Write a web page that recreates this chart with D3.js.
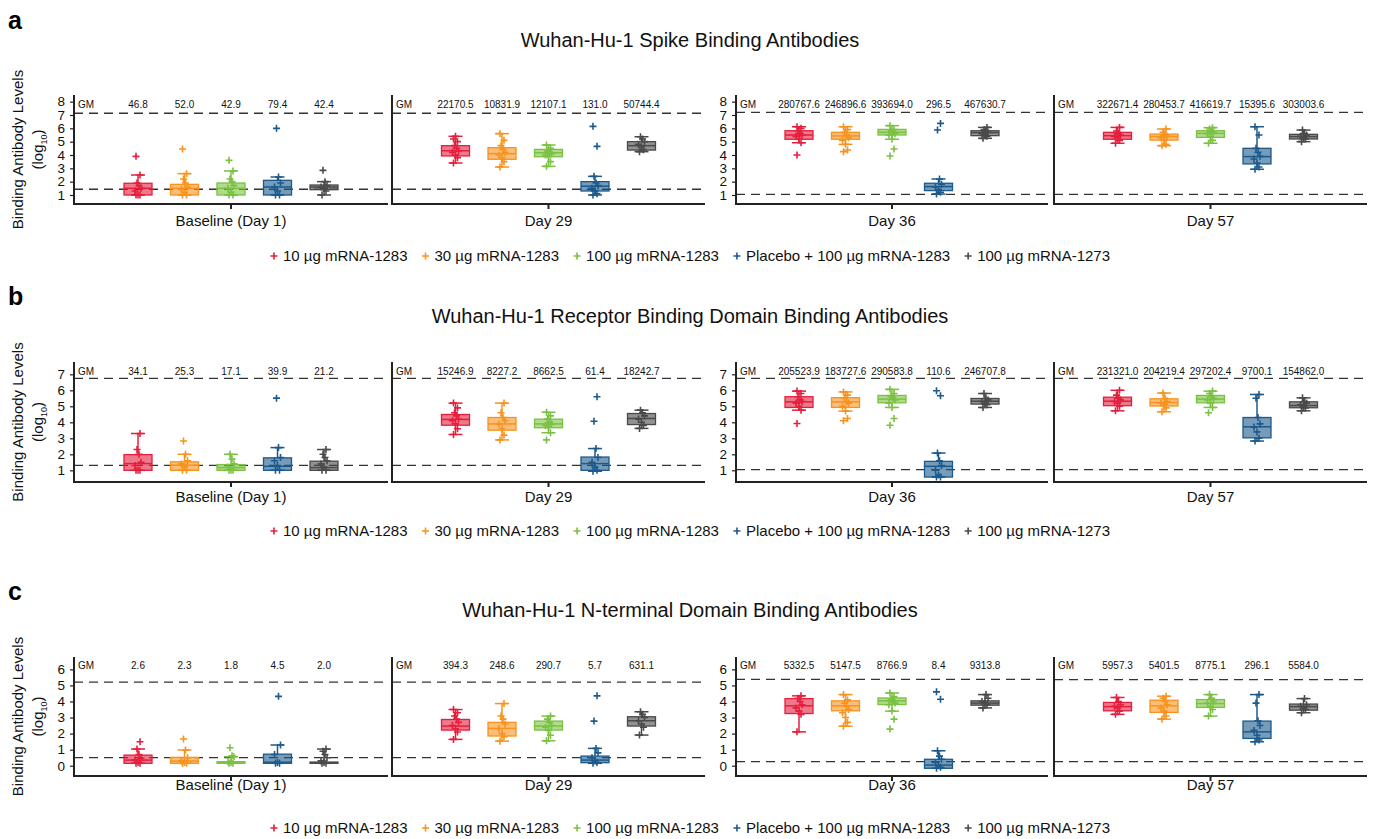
<!DOCTYPE html>
<html>
<head>
<meta charset="utf-8">
<script src="https://cdn.jsdelivr.net/npm/d3@7"></script>
<style>
  body { margin: 0; background: #fff; }
  svg { font-family: "Liberation Sans", Arial, sans-serif; }
</style>
</head>
<body>
<script>
// ---- data ----
const days = ["Baseline (Day 1)", "Day 29", "Day 36", "Day 57"];
const groups = ["10 µg mRNA-1283", "30 µg mRNA-1283", "100 µg mRNA-1283", "Placebo + 100 µg mRNA-1283", "100 µg mRNA-1273"];
const groupColors = ["#e41f3d", "#f7931e", "#7bc143", "#1c5a8c", "#4a4a4a"];

// Spike
const spikeGM = [[46.8, 52.0, 42.9, 79.4, 42.4], [22170.5, 10831.9, 12107.1, 131.0, 50744.4],
                 [280767.6, 246896.6, 393694.0, 296.5, 467630.7], [322671.4, 280453.7, 416619.7, 15395.6, 303003.6]];
const spikeLimits = [[1.43, 7.13], [1.43, 7.13], [1.05, 7.2], [1.05, 7.2]];
const spikeTicks = [1, 2, 3, 4, 5, 6, 7, 8];
// [min, q1, median, q3, max]
const spikeBox = [
  [[1.0, 1.0, 1.5, 1.88, 2.5], [1.0, 1.0, 1.5, 1.8, 2.6], [1.0, 1.0, 1.5, 1.9, 2.8], [1.0, 1.0, 1.6, 2.1, 2.35], [1.0, 1.4, 1.6, 1.75, 2.0]],
  [[3.4, 3.93, 4.32, 4.7, 5.4], [3.1, 3.68, 4.1, 4.55, 5.6], [3.15, 3.87, 4.17, 4.42, 4.75], [1.0, 1.3, 1.66, 2.0, 2.4], [4.25, 4.37, 4.7, 5.0, 5.37]],
  [[4.92, 5.18, 5.5, 5.82, 6.12], [4.8, 5.18, 5.43, 5.7, 6.12], [5.18, 5.5, 5.7, 5.92, 6.2], [1.07, 1.33, 1.63, 1.88, 2.2], [5.25, 5.45, 5.68, 5.82, 6.07]],
  [[4.88, 5.18, 5.45, 5.7, 6.07], [4.7, 5.12, 5.38, 5.57, 5.95], [4.88, 5.32, 5.62, 5.82, 6.05], [2.93, 3.33, 3.88, 4.5, 6.12], [5.0, 5.2, 5.38, 5.55, 5.87]]
];
const spikePoints = [
  [[1.0, 1.0, 1.0, 1.3, 1.5, 1.7, 1.9, 2.5, 3.9], [1.0, 1.0, 1.2, 1.4, 1.6, 1.9, 2.2, 2.6, 4.45], [1.0, 1.0, 1.2, 1.5, 1.7, 2.0, 2.2, 2.8, 3.6], [1.0, 1.0, 1.3, 1.6, 1.9, 2.35, 6.0], [1.0, 1.3, 1.5, 1.6, 1.7, 2.0, 2.85]],
  [[3.4, 3.8, 4.0, 4.2, 4.3, 4.5, 4.7, 5.0, 5.2, 5.4], [3.1, 3.5, 3.8, 4.0, 4.2, 4.4, 4.7, 5.1, 5.6], [3.15, 3.5, 3.9, 4.0, 4.1, 4.2, 4.3, 4.5, 4.75], [1.0, 1.1, 1.3, 1.5, 1.7, 1.9, 2.4, 4.65, 6.15], [4.25, 4.4, 4.6, 4.8, 5.0, 5.2, 5.37]],
  [[4.0, 4.92, 5.2, 5.4, 5.5, 5.6, 5.8, 6.0, 6.12], [4.25, 4.38, 4.8, 5.1, 5.3, 5.5, 5.7, 5.9, 6.12], [3.93, 4.45, 5.18, 5.5, 5.6, 5.7, 5.8, 5.9, 6.2], [1.07, 1.2, 1.4, 1.6, 1.8, 2.2, 5.87, 6.37], [5.25, 5.4, 5.5, 5.6, 5.7, 5.8, 5.9, 6.07]],
  [[4.88, 5.1, 5.3, 5.4, 5.5, 5.6, 5.8, 6.07], [4.7, 4.8, 5.1, 5.3, 5.4, 5.5, 5.7, 5.95], [4.88, 5.1, 5.4, 5.6, 5.7, 5.8, 5.95, 6.05], [2.93, 3.1, 3.4, 3.7, 3.9, 4.2, 4.5, 5.5, 6.12], [5.0, 5.2, 5.3, 5.4, 5.5, 5.6, 5.87]]
];

// Receptor binding domain
const rbdGM = [[34.1, 25.3, 17.1, 39.9, 21.2], [15246.9, 8227.2, 8662.5, 61.4, 18242.7],
               [205523.9, 183727.6, 290583.8, 110.6, 246707.8], [231321.0, 204219.4, 297202.4, 9700.1, 154862.0]];
const rbdLimits = [[1.31, 6.75], [1.31, 6.75], [1.04, 6.75], [1.04, 6.75]];
const rbdTicks = [1, 2, 3, 4, 5, 6, 7];
const rbdBox = [
  [[1.0, 1.0, 1.42, 1.98, 3.3], [1.0, 1.0, 1.32, 1.53, 2.0], [1.0, 1.0, 1.17, 1.36, 2.0], [1.0, 1.0, 1.25, 1.78, 2.42], [1.0, 1.0, 1.17, 1.57, 2.3]],
  [[3.24, 3.82, 4.18, 4.49, 5.2], [2.9, 3.51, 3.9, 4.3, 5.2], [3.35, 3.66, 3.9, 4.2, 4.63], [0.94, 1.0, 1.42, 1.83, 2.36], [3.62, 3.86, 4.24, 4.55, 4.76]],
  [[4.76, 4.93, 5.28, 5.6, 5.95], [4.7, 4.93, 5.28, 5.54, 5.9], [4.93, 5.22, 5.45, 5.68, 6.06], [0.58, 0.58, 1.25, 1.56, 2.08], [4.93, 5.14, 5.32, 5.49, 5.8]],
  [[4.72, 5.04, 5.32, 5.57, 6.0], [4.66, 5.02, 5.24, 5.47, 5.83], [4.93, 5.22, 5.45, 5.68, 5.95], [2.83, 3.03, 3.72, 4.3, 5.74], [4.72, 4.91, 5.05, 5.28, 5.53]]
];
const rbdPoints = [
  [[1.0, 1.0, 1.0, 1.3, 1.5, 2.0, 2.3, 3.3], [1.0, 1.0, 1.2, 1.4, 1.6, 2.0, 2.83], [1.0, 1.0, 1.0, 1.2, 1.4, 1.7, 2.0], [1.0, 1.0, 1.3, 1.6, 1.8, 2.42, 5.51], [1.0, 1.0, 1.2, 1.4, 1.6, 1.8, 2.0, 2.3]],
  [[3.24, 3.6, 3.9, 4.1, 4.2, 4.4, 4.6, 4.9, 5.2], [2.9, 3.2, 3.6, 3.9, 4.1, 4.3, 4.6, 5.2], [2.9, 3.35, 3.7, 3.8, 3.9, 4.0, 4.2, 4.4, 4.63], [0.94, 1.0, 1.2, 1.5, 1.8, 2.36, 4.07, 5.6], [3.62, 3.8, 4.0, 4.2, 4.4, 4.6, 4.76]],
  [[3.93, 4.76, 5.0, 5.2, 5.3, 5.4, 5.6, 5.8, 5.95], [4.1, 4.24, 4.7, 5.0, 5.2, 5.3, 5.5, 5.7, 5.9], [3.82, 4.24, 4.93, 5.2, 5.4, 5.5, 5.6, 5.8, 6.06], [0.58, 0.58, 0.7, 1.0, 1.3, 1.6, 2.08, 5.66, 5.97], [4.93, 5.1, 5.2, 5.3, 5.4, 5.5, 5.8]],
  [[4.72, 5.0, 5.2, 5.3, 5.4, 5.5, 5.7, 6.0], [4.66, 4.9, 5.1, 5.2, 5.3, 5.5, 5.83], [4.6, 4.93, 5.2, 5.4, 5.5, 5.6, 5.8, 5.95], [2.83, 3.0, 3.4, 3.7, 3.9, 4.3, 5.5, 5.74], [4.72, 4.9, 5.0, 5.1, 5.2, 5.3, 5.53]]
];

// N-terminal domain
const ntdGM = [[2.6, 2.3, 1.8, 4.5, 2.0], [394.3, 248.6, 290.7, 5.7, 631.1],
               [5332.5, 5147.5, 8766.9, 8.4, 9313.8], [5957.3, 5401.5, 8775.1, 296.1, 5584.0]];
const ntdLimits = [[0.5, 5.2], [0.5, 5.2], [0.25, 5.38], [0.25, 5.36]];
const ntdTicks = [0, 1, 2, 3, 4, 5, 6];
const ntdBox = [
  [[0.15, 0.15, 0.35, 0.66, 1.04], [0.15, 0.15, 0.29, 0.52, 0.98], [0.15, 0.15, 0.2, 0.25, 0.56], [0.15, 0.15, 0.22, 0.72, 1.29], [0.15, 0.15, 0.2, 0.22, 1.04]],
  [[1.64, 2.22, 2.47, 2.88, 3.5], [1.53, 1.85, 2.32, 2.7, 3.87], [1.55, 2.22, 2.47, 2.78, 3.09], [0.15, 0.19, 0.35, 0.6, 1.08], [1.91, 2.47, 2.8, 3.05, 3.36]],
  [[2.11, 3.25, 3.73, 4.18, 4.35], [2.46, 3.42, 3.73, 4.04, 4.43], [3.4, 3.81, 4.04, 4.22, 4.53], [-0.16, -0.16, 0.04, 0.4, 0.93], [3.6, 3.77, 3.9, 4.04, 4.43]],
  [[3.2, 3.42, 3.68, 3.94, 4.25], [2.9, 3.32, 3.73, 4.08, 4.33], [3.09, 3.63, 3.87, 4.12, 4.43], [1.49, 1.7, 2.11, 2.78, 4.43], [3.3, 3.46, 3.68, 3.84, 4.18]]
];
const ntdPoints = [
  [[0.15, 0.15, 0.2, 0.35, 0.45, 0.7, 1.04, 1.49], [0.15, 0.15, 0.2, 0.3, 0.5, 0.98, 1.66], [0.15, 0.15, 0.2, 0.25, 0.56, 0.62, 1.12], [0.15, 0.15, 0.2, 0.7, 1.29, 4.32], [0.15, 0.15, 0.2, 0.3, 0.5, 0.7, 0.9, 1.04]],
  [[1.64, 2.1, 2.3, 2.5, 2.7, 2.9, 3.1, 3.3, 3.5], [1.53, 1.8, 2.0, 2.3, 2.6, 2.9, 3.1, 3.87], [1.55, 1.9, 2.2, 2.4, 2.5, 2.7, 2.9, 3.09], [0.15, 0.2, 0.3, 0.5, 0.8, 1.08, 2.78, 4.35], [1.91, 2.4, 2.6, 2.8, 3.0, 3.2, 3.36]],
  [[2.11, 3.2, 3.4, 3.6, 3.8, 4.0, 4.2, 4.35], [2.46, 2.7, 3.0, 3.3, 3.5, 3.7, 3.9, 4.1, 4.43], [2.28, 2.9, 3.4, 3.8, 3.9, 4.0, 4.1, 4.3, 4.53], [-0.16, -0.1, 0.0, 0.2, 0.4, 0.6, 0.93, 4.14, 4.6], [3.6, 3.8, 3.9, 4.0, 4.2, 4.43]],
  [[3.2, 3.4, 3.6, 3.7, 3.8, 4.0, 4.25], [2.9, 3.1, 3.4, 3.6, 3.8, 4.0, 4.2, 4.33], [3.09, 3.5, 3.7, 3.9, 4.0, 4.2, 4.43], [1.49, 1.6, 1.9, 2.2, 2.5, 2.8, 3.9, 4.43], [3.3, 3.5, 3.6, 3.7, 3.8, 4.18]]
];

// ---- layout ----
const W = 1374, H = 839;
const panelX = [[74, 388], [392, 705], [736, 1048], [1054, 1367]];
const rows = [
  {letter: "a", title: "Wuhan-Hu-1 Spike Binding Antibodies", gm: spikeGM, lim: spikeLimits, ticks: spikeTicks, box: spikeBox, pts: spikePoints,
   top: 95, bottom: 204, domain: [0.325, 8.5], letterY: 29, titleY: 47, gmY: 108, xlabY: 226, legY: 261},
  {letter: "b", title: "Wuhan-Hu-1 Receptor Binding Domain Binding Antibodies", gm: rbdGM, lim: rbdLimits, ticks: rbdTicks, box: rbdBox, pts: rbdPoints,
   top: 362, bottom: 482, domain: [0.27, 7.77], letterY: 305, titleY: 323, gmY: 375, xlabY: 502, legY: 536},
  {letter: "c", title: "Wuhan-Hu-1 N-terminal Domain Binding Antibodies", gm: ntdGM, lim: ntdLimits, ticks: ntdTicks, box: ntdBox, pts: ntdPoints,
   top: 657, bottom: 776, domain: [-0.64, 6.77], letterY: 600, titleY: 617, gmY: 669, xlabY: 790, legY: 833}
];
const step = 46.5, boxW = 28;
const jitter = [-2, 2, 0, -3, 3, 1, -1, 2, -2, 0];

const svg = d3.select("body").append("svg").attr("width", W).attr("height", H);

function plus(g, x, y, color, r) {
  g.append("path")
    .attr("d", `M${x - r},${y}H${x + r}M${x},${y - r}V${y + r}`)
    .attr("stroke", color).attr("stroke-width", 1.6).attr("fill", "none");
}

rows.forEach(row => {
  const y = d3.scaleLinear().domain(row.domain).range([row.bottom, row.top]);

  svg.append("text").attr("x", 8).attr("y", row.letterY)
    .attr("font-size", 25).attr("font-weight", "bold").text(row.letter);
  svg.append("text").attr("x", 690).attr("y", row.titleY).attr("text-anchor", "middle")
    .attr("font-size", 20).attr("fill", "#111").text(row.title);

  // y title
  const cy = (row.top + row.bottom) / 2;
  svg.append("text").attr("transform", `translate(23,${cy}) rotate(-90)`)
    .attr("text-anchor", "middle").attr("font-size", 15).attr("fill", "#111").text("Binding Antibody Levels");
  const lg = svg.append("text").attr("transform", `translate(43,${cy}) rotate(-90)`)
    .attr("text-anchor", "middle").attr("font-size", 15).attr("fill", "#111");
  lg.append("tspan").text("(log");
  lg.append("tspan").attr("font-size", 9).attr("dy", 4).text("10");
  lg.append("tspan").attr("dy", -4).text(")");

  days.forEach((day, d) => {
    const [x0, x1] = panelX[d];
    const cx = (x0 + x1) / 2;
    const x = d3.scalePoint().domain(groups).range([cx - 2 * step, cx + 2 * step]);
    const g = svg.append("g");

    // dashed limits
    row.lim[d].forEach(v => {
      g.append("line").attr("x1", x0).attr("x2", x1).attr("y1", y(v)).attr("y2", y(v))
        .attr("stroke", "#333").attr("stroke-width", 1.3).attr("stroke-dasharray", "9,6");
    });

    // axes
    if (d === 0 || d === 2) {
      const ax = g.append("g").attr("transform", `translate(${x0},0)`)
        .call(d3.axisLeft(y).tickValues(row.ticks).tickSize(4).tickFormat(d3.format("d")));
      ax.select(".domain").remove();
      ax.selectAll("line").attr("stroke", "#222").attr("stroke-width", 1.2);
      ax.selectAll("text").attr("font-size", 13.5).attr("fill", "#111")
        .attr("font-family", "Liberation Sans, Arial, sans-serif").attr("x", -9);
    }
    g.append("line").attr("x1", x0).attr("x2", x0).attr("y1", row.top).attr("y2", row.bottom)
      .attr("stroke", "#222").attr("stroke-width", 2);
    g.append("line").attr("x1", x0 - 1).attr("x2", x1).attr("y1", row.bottom).attr("y2", row.bottom)
      .attr("stroke", "#222").attr("stroke-width", 2);
    g.append("line").attr("x1", cx).attr("x2", cx).attr("y1", row.bottom).attr("y2", row.bottom + 5)
      .attr("stroke", "#222").attr("stroke-width", 2);
    g.append("text").attr("x", cx).attr("y", row.xlabY).attr("text-anchor", "middle")
      .attr("font-size", 15).attr("fill", "#111").text(day);

    // GM labels
    g.append("text").attr("x", x0 + 4).attr("y", row.gmY).attr("font-size", 10).attr("fill", "#111").text("GM");
    groups.forEach((grp, k) => {
      g.append("text").attr("x", x(grp)).attr("y", row.gmY).attr("text-anchor", "middle")
        .attr("font-size", 10).attr("fill", "#111").text(row.gm[d][k].toFixed(1));
    });

    // boxes
    groups.forEach((grp, k) => {
      const [lo, q1, md, q3, hi] = row.box[d][k];
      const c = groupColors[k];
      const px = x(grp);
      g.append("line").attr("x1", px).attr("x2", px).attr("y1", y(hi)).attr("y2", y(q3)).attr("stroke", c).attr("stroke-width", 1.5);
      g.append("line").attr("x1", px).attr("x2", px).attr("y1", y(q1)).attr("y2", y(lo)).attr("stroke", c).attr("stroke-width", 1.5);
      [lo, hi].forEach(v => g.append("line").attr("x1", px - 7).attr("x2", px + 7).attr("y1", y(v)).attr("y2", y(v))
        .attr("stroke", c).attr("stroke-width", 1.5));
      g.append("rect").attr("x", px - boxW / 2).attr("width", boxW)
        .attr("y", y(q3)).attr("height", Math.max(1, y(q1) - y(q3)))
        .attr("fill", c).attr("fill-opacity", 0.6).attr("stroke", c).attr("stroke-width", 1.3);
      g.append("line").attr("x1", px - boxW / 2).attr("x2", px + boxW / 2).attr("y1", y(md)).attr("y2", y(md))
        .attr("stroke", c).attr("stroke-width", 1.5);
      row.pts[d][k].forEach((v, i) => plus(g, px + jitter[i % jitter.length], y(v), c, 3.5));
    });
  });

  // legend
  const leg = svg.append("g");
  let lx = 0;
  groups.forEach((grp, k) => {
    plus(leg, lx + 4, row.legY - 5, groupColors[k], 3.5);
    const t = leg.append("text").attr("x", lx + 13).attr("y", row.legY).attr("font-size", 15).attr("fill", "#111").text(grp);
    lx += 13 + t.node().getComputedTextLength() + 14;
  });
  leg.attr("transform", `translate(${690 - (lx - 14) / 2},0)`);
});
</script>
</body>
</html>
